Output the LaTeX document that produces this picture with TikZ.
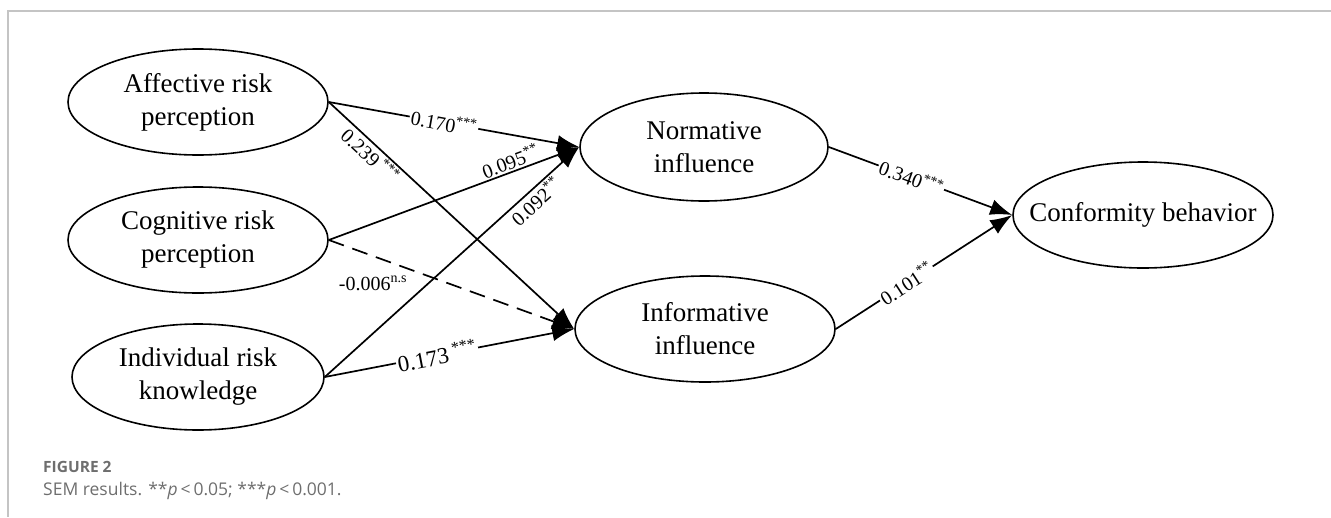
\documentclass[tikz,border=0pt]{standalone}
\usepackage{fontspec}
\setmainfont{Liberation Serif}
\newfontfamily\capfont{Open Sans}
\usetikzlibrary{shapes.geometric,arrows.meta}
\definecolor{framegray}{HTML}{C4C4C4}
\definecolor{capgray}{HTML}{6E6E6E}
\begin{document}
\begin{tikzpicture}[x=1pt,y=-1pt,
  lat/.style={ellipse, draw, line width=1.6pt, inner sep=0pt, minimum width=260pt, minimum height=106pt},
  lattext/.style={align=center, font=\fontsize{27}{33}\selectfont, inner sep=0pt},
  conn/.style={line width=1.7pt, -{Latex[length=22pt,width=16pt]}},
  coef/.style={font=\fontsize{20}{24}\selectfont, inner sep=1.5pt},
  gap/.style={coef, fill=white},
]
\useasboundingbox (0,0) rectangle (1331,517);
\draw[framegray, line width=2pt] (1331,11) -- (8,11) -- (8,517);

% latent variables
\node[lat] (aff) at (198,102) {};
\node[lattext] (affT) at (aff) {Affective risk\\perception};
\node[lat] (cog) at (198,240) {};
\node[lattext] (cogT) at (cog) {Cognitive risk\\perception};
\node[lat, minimum width=252pt] (ind) at (198,377) {};
\node[lattext] (indT) at (ind) {Individual risk\\knowledge};
\node[lat, minimum width=248pt, minimum height=108pt] (nor) at (704,147) {};
\node[lattext] (norT) at (nor) {Normative\\influence};
\node[lat] (inf) at (705,329) {};
\node[lattext] (infT) at (inf) {Informative\\influence};
\node[lat] (con) at (1143,215) {};
\node[lattext] (conT) at (con) {Conformity behavior};

% paths
\draw[conn] (aff.east) -- node[gap, sloped, pos=0.46] {0.170\textsuperscript{***}} (nor.west);
\draw[conn] (aff.east) -- node[coef, sloped, below, pos=0.2] {0.239\,\textsuperscript{***}} (inf.west);
\draw[conn] (cog.east) -- node[coef, sloped, above, pos=0.74] {0.095\textsuperscript{**}} (nor.west);
\draw[conn, dash pattern=on 16pt off 9pt] (cog.east) -- node[coef, pos=0.18, below=18pt] {-0.006\textsuperscript{n.s}} (inf.west);
\draw[conn] (ind.east) -- node[coef, sloped, below, pos=0.8] {0.092\textsuperscript{**}} (nor.west);
\draw[conn] (ind.east) -- node[gap, sloped, pos=0.45, font=\fontsize{23}{26}\selectfont] {0.173\,\textsuperscript{***}} (inf.west);
\draw[conn] (nor.east) -- node[gap, sloped, pos=0.45] {0.340\textsuperscript{***}} (con.west);
\draw[conn] (inf.east) -- node[gap, sloped, pos=0.4] {0.101\textsuperscript{**}} (con.west);

% caption
\node[anchor=base west, font=\capfont\fontsize{15.5}{18}\selectfont\bfseries, text=capgray, inner sep=0pt] (fig) at (43,472) {FIGURE 2};
\node[anchor=base west, font=\capfont\fontsize{17.5}{21}\selectfont, text=capgray, inner sep=0pt] (cap) at (43,495) {SEM results. **\textit{p}\,<\,0.05; ***\textit{p}\,<\,0.001.};
\end{tikzpicture}
\end{document}
